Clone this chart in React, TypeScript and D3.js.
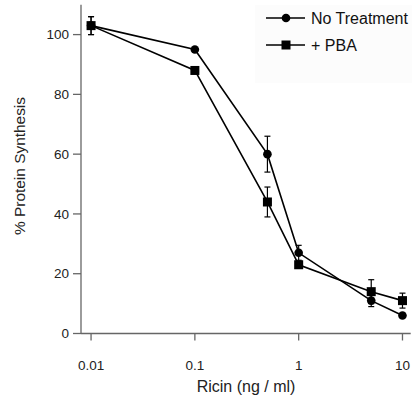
import React from "react";
import * as d3 from "d3";

const doses = [0.01, 0.1, 0.5, 1, 5, 10];
const noTreatment = [103, 95, 60, 27, 11, 6];
const noTreatmentErr = [3, 0, 6, 2.5, 2, 0];
const pba = [103, 88, 44, 23, 14, 11];
const pbaErr = [3, 0, 5, 0, 4, 2.5];
const xTicks = [0.01, 0.1, 1, 10];
const xTickLabels = ["0.01", "0.1", "1", "10"];
const yTicks = [0, 20, 40, 60, 80, 100];
const seriesNames = ["No Treatment", "+ PBA"];

const W = 415;
const H = 400;
const FONT = "'Liberation Sans', Arial, sans-serif";
const AXIS = "#666";

export default function App() {
  const x = d3.scaleLog().domain([0.008, 12]).range([81, 410.7]);
  const y = d3.scaleLinear().domain([0, 110]).range([333.5, 4.7]);
  const line = d3
    .line<number>()
    .x((_, i) => x(doses[i]))
    .y((d) => y(d));

  const series = [
    { name: seriesNames[0], vals: noTreatment, err: noTreatmentErr, shape: "circle" },
    { name: seriesNames[1], vals: pba, err: pbaErr, shape: "square" },
  ];

  const marker = (shape: string, cx: number, cy: number, key: string) =>
    shape === "circle" ? (
      <circle key={key} cx={cx} cy={cy} r={4.3} fill="#000" />
    ) : (
      <rect key={key} x={cx - 4.5} y={cy - 4.5} width={9} height={9} fill="#000" />
    );

  return (
    <div style={{ position: "fixed", left: 0, top: 0 }}>
      <svg width={W} height={H} style={{ display: "block", background: "#fff", fontFamily: FONT }}>
        {/* legend background */}
        <rect x={255} y={5} width={157} height={78} fill="#fcfcfc" />
        {/* axes */}
        <line x1={81} x2={81} y1={y(110)} y2={y(0)} stroke={AXIS} strokeWidth={1.3} />
        <line x1={81} x2={410.7} y1={y(0)} y2={y(0)} stroke={AXIS} strokeWidth={1.3} />
        {yTicks.map((t) => (
          <g key={"y" + t}>
            <line x1={73} x2={81} y1={y(t)} y2={y(t)} stroke={AXIS} strokeWidth={1.3} />
            <text x={69} y={y(t)} dy="0.35em" textAnchor="end" style={{ fontFamily: FONT, fontSize: "13.5px" }} fill="#222">
              {t}
            </text>
          </g>
        ))}
        {xTicks.map((t, i) => (
          <g key={"x" + t}>
            <line x1={x(t)} x2={x(t)} y1={y(0)} y2={y(0) + 7} stroke={AXIS} strokeWidth={1.3} />
            <text x={x(t)} y={370} textAnchor="middle" style={{ fontFamily: FONT, fontSize: "13.5px" }} fill="#222">
              {xTickLabels[i]}
            </text>
          </g>
        ))}
        <text x={246} y={392} textAnchor="middle" style={{ fontFamily: FONT, fontSize: "16px" }} fill="#222">
          Ricin (ng / ml)
        </text>
        <text
          transform={`translate(25,166) rotate(-90)`}
          textAnchor="middle"
          style={{ fontFamily: FONT, fontSize: "15.5px" }}
          textLength={138}
          lengthAdjust="spacingAndGlyphs"
          fill="#222"
        >
          % Protein Synthesis
        </text>
        {/* lines */}
        {series.map((s) => (
          <path key={"l" + s.name} d={line(s.vals) || ""} fill="none" stroke="#000" strokeWidth={1.6} />
        ))}
        {/* error bars */}
        {series.map((s) =>
          s.vals.map((v, i) =>
            s.err[i] > 0 ? (
              <g key={"e" + s.name + i} stroke="#000" strokeWidth={1.2}>
                <line x1={x(doses[i])} x2={x(doses[i])} y1={y(v + s.err[i])} y2={y(v - s.err[i])} />
                <line x1={x(doses[i]) - 3} x2={x(doses[i]) + 3} y1={y(v + s.err[i])} y2={y(v + s.err[i])} />
                <line x1={x(doses[i]) - 3} x2={x(doses[i]) + 3} y1={y(v - s.err[i])} y2={y(v - s.err[i])} />
              </g>
            ) : null
          )
        )}
        {/* markers */}
        {series.map((s) => s.vals.map((v, i) => marker(s.shape, x(doses[i]), y(v), s.name + i)))}
        {/* legend */}
        {series.map((s, i) => {
          const ly = 18 + i * 27;
          return (
            <g key={"lg" + s.name}>
              <line x1={266} x2={305} y1={ly} y2={ly} stroke="#000" strokeWidth={1.6} />
              {marker(s.shape, 286, ly, "lm" + i)}
              <text x={311} y={ly} dy="0.36em" style={{ fontFamily: FONT, fontSize: "16px" }} fill="#111">
                {s.name}
              </text>
            </g>
          );
        })}
      </svg>
    </div>
  );
}
